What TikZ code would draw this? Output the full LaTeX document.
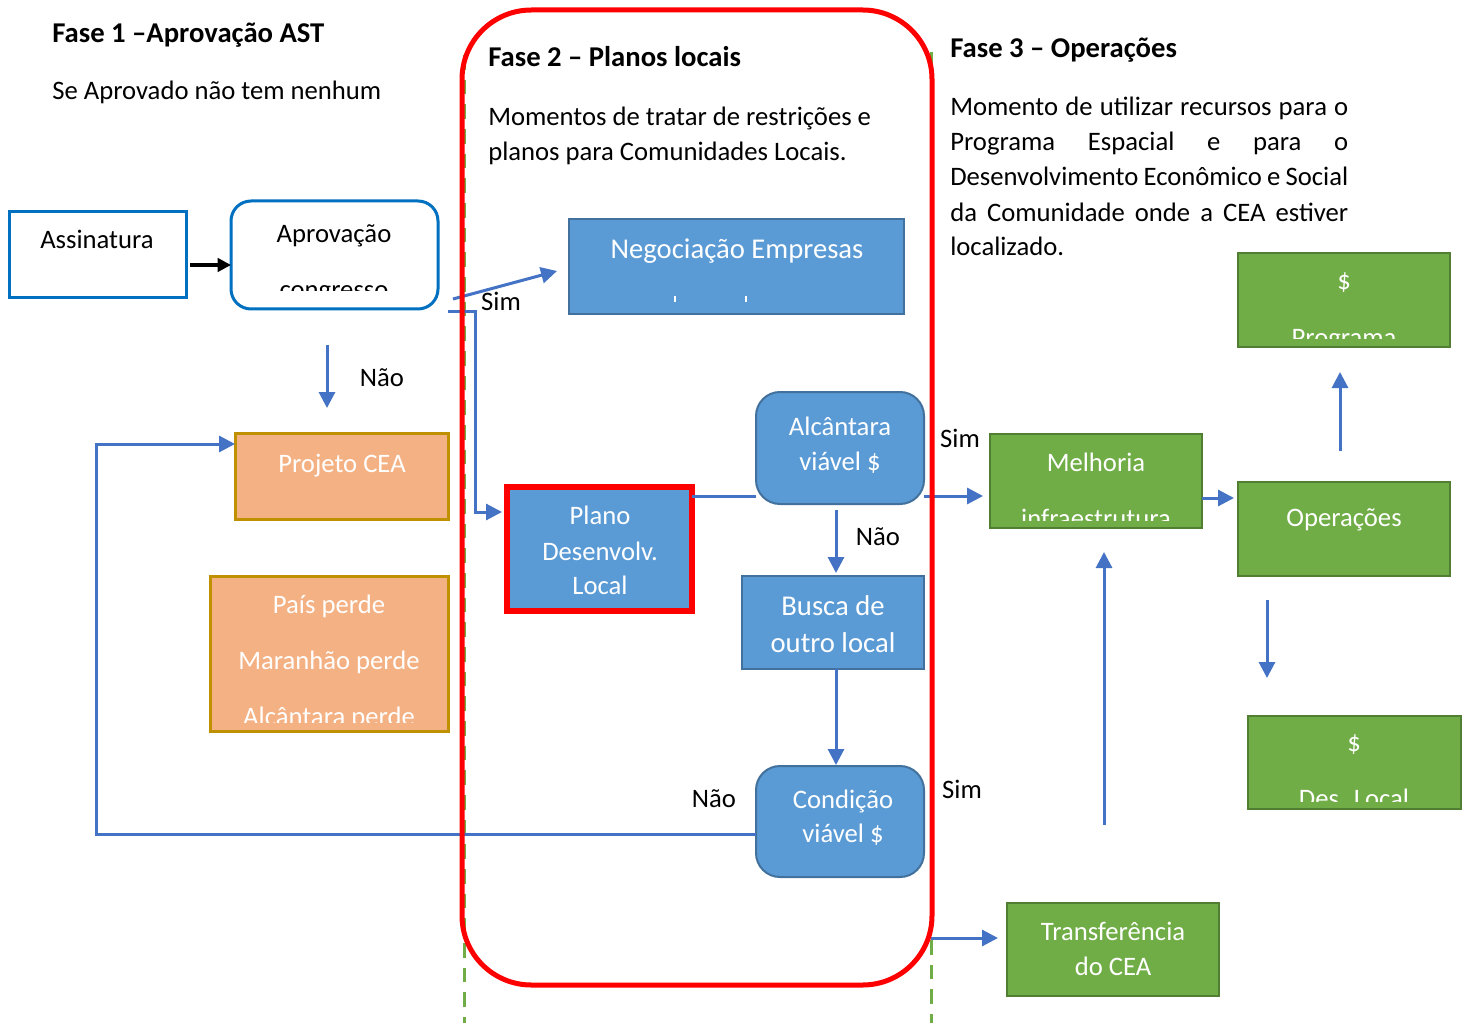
\documentclass[tikz,border=0pt]{standalone}
\usepackage{fontspec}
\setmainfont{Carlito}
\usetikzlibrary{arrows.meta,calc}
\definecolor{bborder}{HTML}{0070C0}
\definecolor{bfill}{HTML}{5B9BD5}
\definecolor{bdark}{HTML}{41719C}
\definecolor{ofill}{HTML}{F4B183}
\definecolor{oborder}{HTML}{BF9000}
\definecolor{gfill}{HTML}{70AD47}
\definecolor{gborder}{HTML}{507E32}
\definecolor{connc}{HTML}{4472C4}
\definecolor{redc}{HTML}{FF0000}
\newcommand\mybox[6]{\node[#6, minimum width={(#4-#2)*0.75pt}, minimum height={(#5-#3)*0.75pt}] (#1) at ({(#2+#4)/2},{(#3+#5)/2}) {};}
\tikzset{
  x=0.75pt, y=-0.75pt,
  shp/.style={rectangle, inner sep=0pt, outer sep=0pt},
  whitebox/.style={shp, draw=bborder, line width=2.25pt, fill=white},
  bluebox/.style={shp, draw=bdark, line width=1.5pt, fill=bfill},
  orangebox/.style={shp, draw=oborder, line width=2.25pt, fill=ofill},
  greenbox/.style={shp, draw=gborder, line width=1.8pt, fill=gfill},
  txt/.style={inner sep=0pt, anchor=base, font=\fontsize{20}{24}\selectfont},
  wtxt/.style={txt, text=white},
  wbig/.style={wtxt, font=\fontsize{21.5}{26}\selectfont},
  para/.style={inner sep=0pt, anchor=base west, font=\fontsize{20}{24}\selectfont},
  ttl/.style={inner sep=0pt, anchor=base west, font=\fontsize{21.5}{26}\selectfont\bfseries},
  arr/.style={draw=connc, line width=2.25pt, -{Triangle[length=12pt,width=12pt]}},
  plain/.style={draw=connc, line width=2.25pt},
  gdash/.style={draw=gfill, line width=2.25pt, dash pattern=on 11pt off 7.5pt},
}
\begin{document}
\begin{tikzpicture}
\useasboundingbox[fill=white] (0,0) rectangle (1466,1023);

% phase separators
\draw[gdash] (464,55) -- (464,1023);
\draw[gdash] (931,52) -- (931,1023);

% titles and texts
\node[ttl] (f1) at (52,43) {Fase 1 –Aprovação AST};
\node[para] (f1t) at (52,100) {Se Aprovado não tem nenhum};
\node[ttl] (f2) at (488,67) {Fase 2 – Planos locais};
\node[para] (f2a) at (488,126) {Momentos de tratar de restrições e};
\node[para] (f2b) at (488,161) {planos para Comunidades Locais.};
\node[ttl] (f3) at (950,58) {Fase 3 – Operações};
\node[para] (f3a) at (950,116) {\makebox[298.5pt][s]{Momento de utilizar recursos para o}};
\node[para] (f3b) at (950,151) {\makebox[298.5pt][s]{Programa Espacial e para o}};
\node[para] (f3c) at (950,186) {\makebox[298.5pt][s]{Desenvolvimento Econômico e Social}};
\node[para] (f3d) at (950,222) {\makebox[298.5pt][s]{da Comunidade onde a CEA estiver}};
\node[para] (f3e) at (950,256) {localizado.};

% boxes
\mybox{assin}{9}{212}{186}{298}{whitebox}
\node[txt] (tassin) at (97,249) {Assinatura};
\mybox{aprov}{231}{201}{438}{309}{whitebox, rounded corners=15pt}
\node[txt] (taprov) at (334,243) {Aprovação};
\begin{scope}
\clip (231,201) rectangle (438,291);
\node[txt] (taprov2) at (334,299) {congresso};
\end{scope}

\mybox{nego}{569}{219}{904}{314}{bluebox}
\node[wbig] (tnego) at (737,259) {Negociação Empresas};
\draw[white, line width=1.5pt] (675,296) -- (675,302);
\draw[white, line width=1.5pt] (746,296) -- (746,302);

\mybox{proj}{235}{433}{448}{519}{orangebox}
\node[wtxt] (tproj) at (342,472) {Projeto CEA};
\mybox{perde}{210}{576}{448}{731}{orangebox}
\node[wtxt] (tperde1) at (329,613) {País perde};
\node[wtxt] (tperde2) at (329,669) {Maranhão perde};
\begin{scope}
\clip (210,576) rectangle (448,722);
\node[wtxt] (tperde3) at (329,725) {Alcântara perde};
\end{scope}

\mybox{plano}{507}{487}{692}{611}{shp, draw=redc, line width=4pt, fill=bfill}
\node[wtxt] (tplano1) at (600,524) {Plano};
\node[wtxt] (tplano2) at (600,560) {Desenvolv.};
\node[wtxt] (tplano3) at (600,594) {Local};

\mybox{alc}{756}{392}{924}{504}{bluebox, rounded corners=18pt}
\node[wtxt] (talc1) at (840,435) {Alcântara};
\node[wtxt] (talc2) at (840,470) {viável \$};

\mybox{busca}{742}{576}{924}{669}{bluebox}
\node[wbig] (tbusca1) at (833,615) {Busca de};
\node[wbig] (tbusca2) at (833,652) {outro local};

\mybox{cond}{756}{766}{924}{877}{bluebox, rounded corners=18pt}
\node[wtxt] (tcond1) at (843,808) {Condição};
\node[wtxt] (tcond2) at (843,842) {viável \$};

\mybox{melh}{990}{434}{1202}{528}{greenbox}
\node[wtxt] (tmelh) at (1096,471) {Melhoria};
\begin{scope}
\clip (990,434) rectangle (1202,520);
\node[wtxt] (tmelh2) at (1096,527) {infraestrutura};
\end{scope}

\mybox{oper}{1238}{482}{1450}{576}{greenbox}
\node[wtxt] (toper) at (1344,526) {Operações};

\mybox{prog}{1238}{253}{1450}{347}{greenbox}
\node[wtxt] (tprog1) at (1344,290) {\$};
\begin{scope}
\clip (1238,253) rectangle (1450,339);
\node[wtxt] (tprog2) at (1344,346) {Programa};
\end{scope}

\mybox{desl}{1248}{716}{1461}{809}{greenbox}
\node[wtxt] (tdesl1) at (1354,751) {\$};
\begin{scope}
\clip (1248,716) rectangle (1461,801);
\node[wtxt] (tdesl2) at (1354,807) {Des. Local};
\end{scope}

\mybox{transf}{1007}{903}{1219}{996}{greenbox}
\node[wtxt] (ttransf1) at (1113,940) {Transferência};
\node[wtxt] (ttransf2) at (1113,975) {do CEA};

% connector end points
\coordinate (a1) at (190,265);
\coordinate (s1) at (453,299);
\coordinate (s2) at (557,271);
\coordinate (p1) at (448,312);
\coordinate (p2) at (475,312);
\coordinate (p3) at (475,512);
\coordinate (p4) at (502,512);
\coordinate (n1) at (327,345);
\coordinate (n2) at (327,408);
\coordinate (c1) at (96,834);
\coordinate (c2) at (96,444);
\coordinate (m1) at (983,496);
\coordinate (t1) at (931,938);
\coordinate (t2) at (998,938);
\coordinate (u1) at (1104,825);
\coordinate (u2) at (1104,552);
\coordinate (o1) at (1234,498);
\coordinate (g1) at (1340,451);
\coordinate (g2) at (1340,372);
\coordinate (d1) at (1267,600);
\coordinate (d2) at (1267,678);
\coordinate (b1) at (836,510);
\coordinate (b2) at (836,573);
\coordinate (b3) at (836,765);

% connectors
\draw[line width=2.6pt, -{Triangle[length=10pt,width=10pt]}] (a1) -- (aprov.west |- a1);
\draw[arr] (s1) -- (s2);
\draw[arr] (p1) -- (p2) -- (p3) -- (p4);
\draw[arr] (n1) -- (n2);
\draw[plain] (plano.east |- m1) -- (alc.west |- m1);
\draw[arr] (alc.east |- m1) -- (m1);
\draw[arr] (b1) -- (b2);
\draw[arr] (b3 |- busca.south) -- (b3);
\draw[arr] (cond.west |- c1) -- (c1) -- (c2) -- (proj.west |- c2);
\draw[arr] (t1) -- (t2);
\draw[arr] (u1) -- (u2);
\draw[arr] (melh.east |- o1) -- (o1);
\draw[arr] (g1) -- (g2);
\draw[arr] (d1) -- (d2);

% labels
\node[txt] (lsim1) at (501,311) {Sim};
\node[txt] (lnao1) at (382,386) {Não};
\node[txt] (lsim2) at (960,447) {Sim};
\node[txt] (lnao2) at (878,545) {Não};
\node[txt] (lnao3) at (714,807) {Não};
\node[txt] (lsim3) at (962,798) {Sim};

% phase 2 frame
\mybox{frame}{462}{10}{932}{985}{shp, draw=redc, line width=3.75pt, rounded corners=52pt}
\end{tikzpicture}
\end{document}
